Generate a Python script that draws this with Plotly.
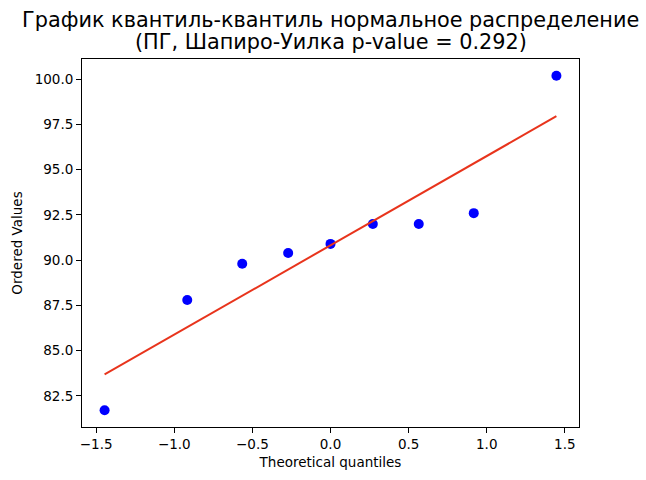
import numpy as np
import plotly.graph_objects as go

# теоретические квантили (probplot, n=9) и упорядоченные значения
theor_q = [-1.446, -0.917, -0.565, -0.271, 0.0, 0.271, 0.565, 0.917, 1.446]
ordered_vals = [81.7, 87.8, 89.8, 90.4, 90.9, 92.0, 92.0, 92.6, 100.2]

x_ticks = [-1.5, -1.0, -0.5, 0.0, 0.5, 1.0, 1.5]
y_ticks = [82.5, 85.0, 87.5, 90.0, 92.5, 95.0, 97.5, 100.0]

title_lines = [
    "График квантиль-квантиль нормальное распределение",
    "(ПГ, Шапиро-Уилка p-value = 0.292)",
]

# линия МНК как в probplot
slope, intercept = np.polyfit(theor_q, ordered_vals, 1)
line_x = [theor_q[0], theor_q[-1]]
line_y = [slope * v + intercept for v in line_x]

fig = go.Figure()

fig.add_trace(go.Scatter(
    x=theor_q,
    y=ordered_vals,
    mode="markers",
    marker=dict(color="#0000ff", size=10),
    showlegend=False
))

fig.add_trace(go.Scatter(
    x=line_x,
    y=line_y,
    mode="lines",
    line=dict(color="rgb(232,52,28)", width=2),
    showlegend=False
))

# поля по 5% как в matplotlib
xr = theor_q[-1] - theor_q[0]
yr = max(ordered_vals) - min(ordered_vals)

axis_style = dict(
    showgrid=False,
    zeroline=False,
    showline=True,
    mirror=True,
    linecolor="black",
    linewidth=1,
    ticks="outside",
    ticklen=5,
    tickwidth=1,
    tickcolor="black",
    tickfont=dict(size=13.5, color="black"),
    tickformat=".1f",
)

fig.update_layout(
    width=646,
    height=480,
    margin=dict(l=82, r=67, t=59, b=51),
    paper_bgcolor="white",
    plot_bgcolor="white",
    font=dict(family="DejaVu Sans", color="black"),
    xaxis=dict(
        axis_style,
        range=[theor_q[0] - 0.05 * xr, theor_q[-1] + 0.05 * xr],
        tickvals=x_ticks,
        title=dict(text="Theoretical quantiles", font=dict(size=13.5), standoff=6),
    ),
    yaxis=dict(
        axis_style,
        range=[min(ordered_vals) - 0.05 * yr, max(ordered_vals) + 0.05 * yr],
        tickvals=y_ticks,
        title=dict(text="Ordered Values", font=dict(size=13.5), standoff=8),
    ),
)

# заголовок в две строки (отдельными надписями, чтобы задать интервал)
for txt, shift in zip(title_lines, [39.5, 17.5]):
    fig.add_annotation(
        text=txt,
        x=0.5, xref="paper", xanchor="center",
        y=1, yref="paper", yanchor="middle",
        yshift=shift,
        showarrow=False,
        font=dict(size=20.8, color="black"),
    )

fig.write_html(
    "out.html",
    config={"displayModeBar": False},
    post_script="document.body.style.margin='0';",
)
